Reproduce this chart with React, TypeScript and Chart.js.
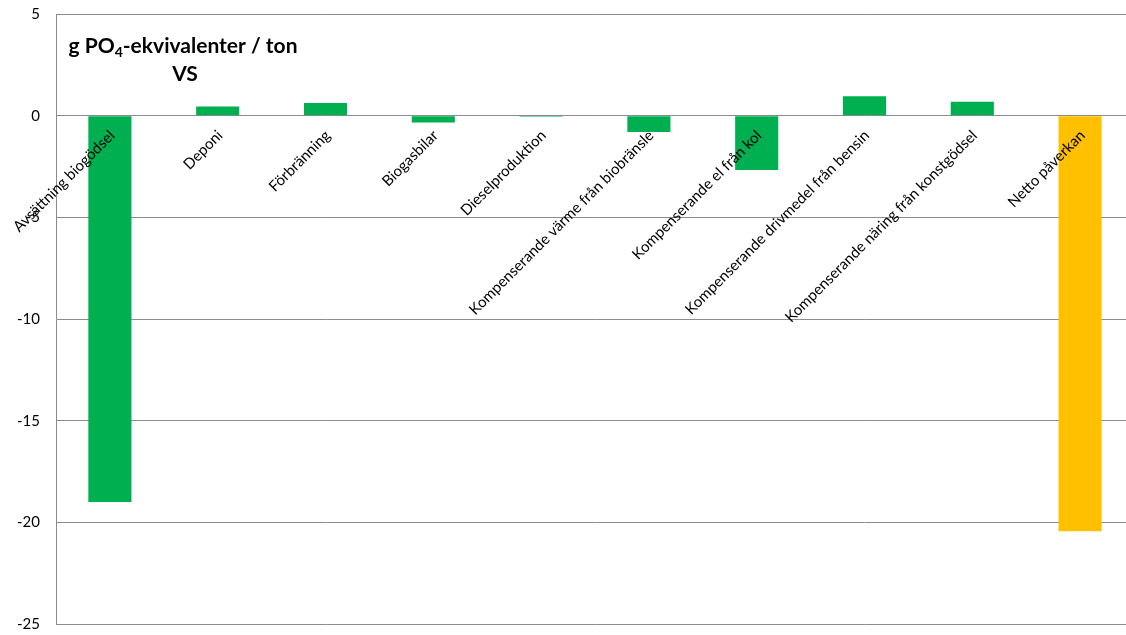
import React, { useEffect, useRef } from "react";
import { Chart, registerables } from "chart.js";

Chart.register(...registerables);

const categories = [
  "Avsättning biogödsel",
  "Deponi",
  "Förbränning",
  "Biogasbilar",
  "Dieselproduktion",
  "Kompenserande värme från biobränsle",
  "Kompenserande el från kol",
  "Kompenserande drivmedel från bensin",
  "Kompenserande näring från konstgödsel",
  "Netto påverkan",
];
const values = [-19.0, 0.45, 0.62, -0.33, -0.05, -0.8, -2.67, 0.95, 0.69, -20.44];
const barColors = [
  "#00B050", "#00B050", "#00B050", "#00B050", "#00B050",
  "#00B050", "#00B050", "#00B050", "#00B050", "#FFC000",
];
const yMin = -25;
const yMax = 5;
const yStep = 5;
const titleParts = { pre: "g PO", sub: "4", post: "-ekvivalenter / ton", line2: "VS" };

const FONT = "Lato, 'Open Sans', sans-serif";

const labelPlugin = {
  id: "catLabels",
  afterDatasetsDraw(chart: any) {
    const ctx = chart.ctx;
    const xs = chart.scales.x;
    const y0 = chart.scales.y.getPixelForValue(0);
    ctx.save();
    ctx.font = `15px ${FONT}`;
    ctx.fillStyle = "#000";
    ctx.textAlign = "right";
    ctx.textBaseline = "top";
    categories.forEach((c, i) => {
      const px = xs.getPixelForValue(i);
      ctx.save();
      ctx.translate(px - 3, y0 + 12);
      ctx.rotate(-Math.PI / 4);
      ctx.fillText(c, 0, 0);
      ctx.restore();
    });
    ctx.restore();
  },
};

const titlePlugin = {
  id: "innerTitle",
  afterDatasetsDraw(chart: any) {
    const ctx = chart.ctx;
    ctx.save();
    ctx.fillStyle = "#000";
    ctx.textBaseline = "alphabetic";
    ctx.textAlign = "left";
    const big = `bold 21px ${FONT}`;
    const small = `bold 14px ${FONT}`;
    ctx.font = big;
    const w1 = ctx.measureText(titleParts.pre).width;
    const w3 = ctx.measureText(titleParts.post).width;
    ctx.font = small;
    const w2 = ctx.measureText(titleParts.sub).width;
    const total = w1 + w2 + w3;
    const cx = 183;
    let x = cx - total / 2;
    ctx.font = big;
    ctx.fillText(titleParts.pre, x, 53);
    x += w1;
    ctx.font = small;
    ctx.fillText(titleParts.sub, x, 57);
    x += w2;
    ctx.font = big;
    ctx.fillText(titleParts.post, x, 53);
    ctx.textAlign = "center";
    ctx.fillText(titleParts.line2, cx + 2, 81);
    ctx.restore();
  },
};

export default function App() {
  const ref = useRef<HTMLCanvasElement | null>(null);
  useEffect(() => {
    if (!ref.current) return;
    const chart = new Chart(ref.current, {
      type: "bar",
      data: {
        labels: categories,
        datasets: [
          {
            data: values,
            backgroundColor: barColors,
            borderWidth: 0,
            categoryPercentage: 1,
            barPercentage: 0.4,
          },
        ],
      },
      options: {
        animation: false,
        responsive: false,
        layout: { padding: { top: 14, bottom: 11, left: 0, right: 0 } },
        plugins: { legend: { display: false }, tooltip: { enabled: false } },
        scales: {
          x: { display: false },
          y: {
            min: yMin,
            max: yMax,
            afterFit: (s: any) => {
              s.width = 56;
            },
            ticks: {
              stepSize: yStep,
              padding: 2,
              color: "#000",
              font: { family: FONT, size: 15 },
            },
            grid: {
              color: "#8c8c8c",
              lineWidth: 1,
              drawTicks: true,
              tickLength: 14,
              tickColor: "rgba(0,0,0,0)",
            },
            border: { color: "#8c8c8c", width: 1 },
          },
        },
      },
      plugins: [labelPlugin, titlePlugin],
    });
    return () => chart.destroy();
  }, []);
  return (
    <div style={{ position: "fixed", left: 0, top: 0, width: 1126, height: 635, overflow: "hidden", background: "#fff" }}>
      <canvas ref={ref} width={1134} height={635} style={{ width: 1134, height: 635 }} />
    </div>
  );
}
